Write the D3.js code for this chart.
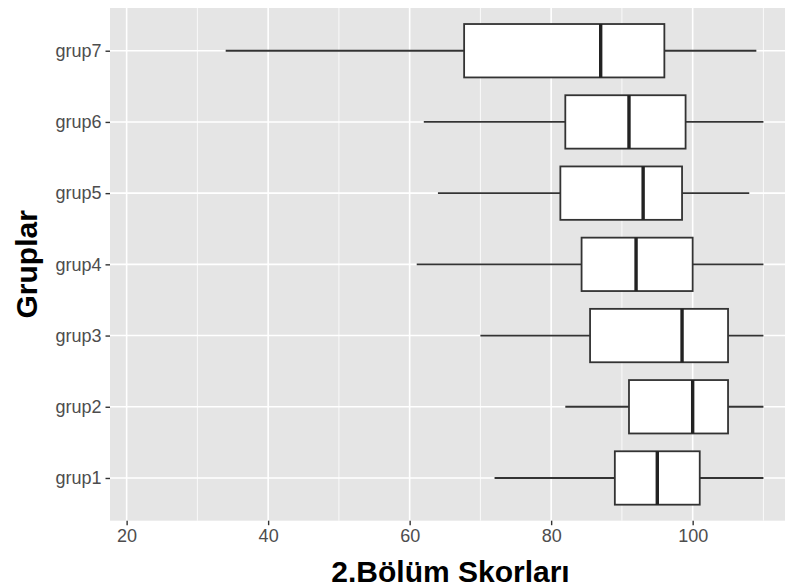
<!DOCTYPE html>
<html>
<head>
<meta charset="utf-8">
<script src="https://cdn.jsdelivr.net/npm/d3@7"></script>
<style>
  html, body { margin: 0; padding: 0; background: #fff; }
  svg { display: block; }
</style>
</head>
<body>
<svg id="chart" width="786" height="587"></svg>
<script>
// Boxplot summaries per group (2. Bölüm scores)
const groups   = ["grup1", "grup2", "grup3", "grup4", "grup5", "grup6", "grup7"];
const whiskLo  = [72, 82, 70, 61, 64, 62, 34];
const q1       = [89, 91, 85.5, 84.3, 81.3, 82, 67.7];
const medians  = [95, 100, 98.5, 92, 93, 91, 87];
const q3       = [101, 105, 105, 100, 98.5, 99, 96];
const whiskHi  = [110, 110, 110, 110, 108, 110, 109];
const xTicks   = [20, 40, 60, 80, 100];
const xMinor   = [30, 50, 70, 90, 110];

const rows = groups.map((g, i) => ({
  g, lo: whiskLo[i], q1: q1[i], med: medians[i], q3: q3[i], hi: whiskHi[i]
}));

const svg = d3.select("#chart");
const panel = { left: 110, right: 785, top: 8, bottom: 520.7 };

const x = d3.scaleLinear().domain([17.65, 113.05]).range([panel.left, panel.right]);
const y = d3.scalePoint().domain(groups.slice().reverse())
  .range([panel.top, panel.bottom]).padding(0.6);
const boxH = y.step() * 0.75;

// panel background
svg.append("rect")
  .attr("x", panel.left).attr("y", panel.top)
  .attr("width", panel.right - panel.left).attr("height", panel.bottom - panel.top)
  .attr("fill", "#e5e5e5");

// grid
const grid = svg.append("g");
grid.selectAll(".minor").data(xMinor).join("line")
  .attr("x1", d => x(d)).attr("x2", d => x(d))
  .attr("y1", panel.top).attr("y2", panel.bottom)
  .attr("stroke", "#fff").attr("stroke-width", 0.8);
grid.selectAll(".majorx").data(xTicks).join("line")
  .attr("x1", d => x(d)).attr("x2", d => x(d))
  .attr("y1", panel.top).attr("y2", panel.bottom)
  .attr("stroke", "#fff").attr("stroke-width", 1.6);
grid.selectAll(".majory").data(groups).join("line")
  .attr("x1", panel.left).attr("x2", panel.right)
  .attr("y1", d => y(d)).attr("y2", d => y(d))
  .attr("stroke", "#fff").attr("stroke-width", 1.6);

// boxes
const marks = svg.append("g");
const b = marks.selectAll("g").data(rows).join("g");
b.append("line")
  .attr("x1", d => x(d.lo)).attr("x2", d => x(d.q1))
  .attr("y1", d => y(d.g)).attr("y2", d => y(d.g))
  .attr("stroke", "#333").attr("stroke-width", 1.8);
b.append("line")
  .attr("x1", d => x(d.q3)).attr("x2", d => x(d.hi))
  .attr("y1", d => y(d.g)).attr("y2", d => y(d.g))
  .attr("stroke", "#333").attr("stroke-width", 1.8);
b.append("rect")
  .attr("x", d => x(d.q1)).attr("width", d => x(d.q3) - x(d.q1))
  .attr("y", d => y(d.g) - boxH / 2).attr("height", boxH)
  .attr("fill", "#fff").attr("stroke", "#333").attr("stroke-width", 1.8);
b.append("line")
  .attr("x1", d => x(d.med)).attr("x2", d => x(d.med))
  .attr("y1", d => y(d.g) - boxH / 2).attr("y2", d => y(d.g) + boxH / 2)
  .attr("stroke", "#222").attr("stroke-width", 3.4);

// axes
const font = "'Liberation Sans', Arial, Helvetica, sans-serif";
const xAxis = svg.append("g")
  .attr("transform", `translate(0,${panel.bottom})`)
  .call(d3.axisBottom(x).tickValues(xTicks).tickSize(4.5).tickPadding(4));
xAxis.select(".domain").remove();
xAxis.selectAll(".tick line").attr("stroke", "#333").attr("stroke-width", 1.4);
xAxis.selectAll(".tick text").attr("fill", "#4d4d4d")
  .style("font-family", font).style("font-size", "18px");

const yAxis = svg.append("g")
  .attr("transform", `translate(${panel.left},0)`)
  .call(d3.axisLeft(y).tickSize(4.5).tickPadding(4));
yAxis.select(".domain").remove();
yAxis.selectAll(".tick line").attr("stroke", "#333").attr("stroke-width", 1.4);
yAxis.selectAll(".tick text").attr("fill", "#4d4d4d")
  .style("font-family", font).style("font-size", "18px");

// titles
svg.append("text")
  .attr("x", (panel.left + panel.right) / 2 + 3).attr("y", 582)
  .attr("text-anchor", "middle")
  .style("font-family", font).style("font-size", "30px").style("font-weight", "bold")
  .attr("fill", "#000")
  .text("2.Bölüm Skorları");

svg.append("text")
  .attr("transform", `translate(37,${(panel.top + panel.bottom) / 2}) rotate(-90)`)
  .attr("text-anchor", "middle")
  .style("font-family", font).style("font-size", "30px").style("font-weight", "bold")
  .attr("fill", "#000")
  .text("Gruplar");
</script>
</body>
</html>
